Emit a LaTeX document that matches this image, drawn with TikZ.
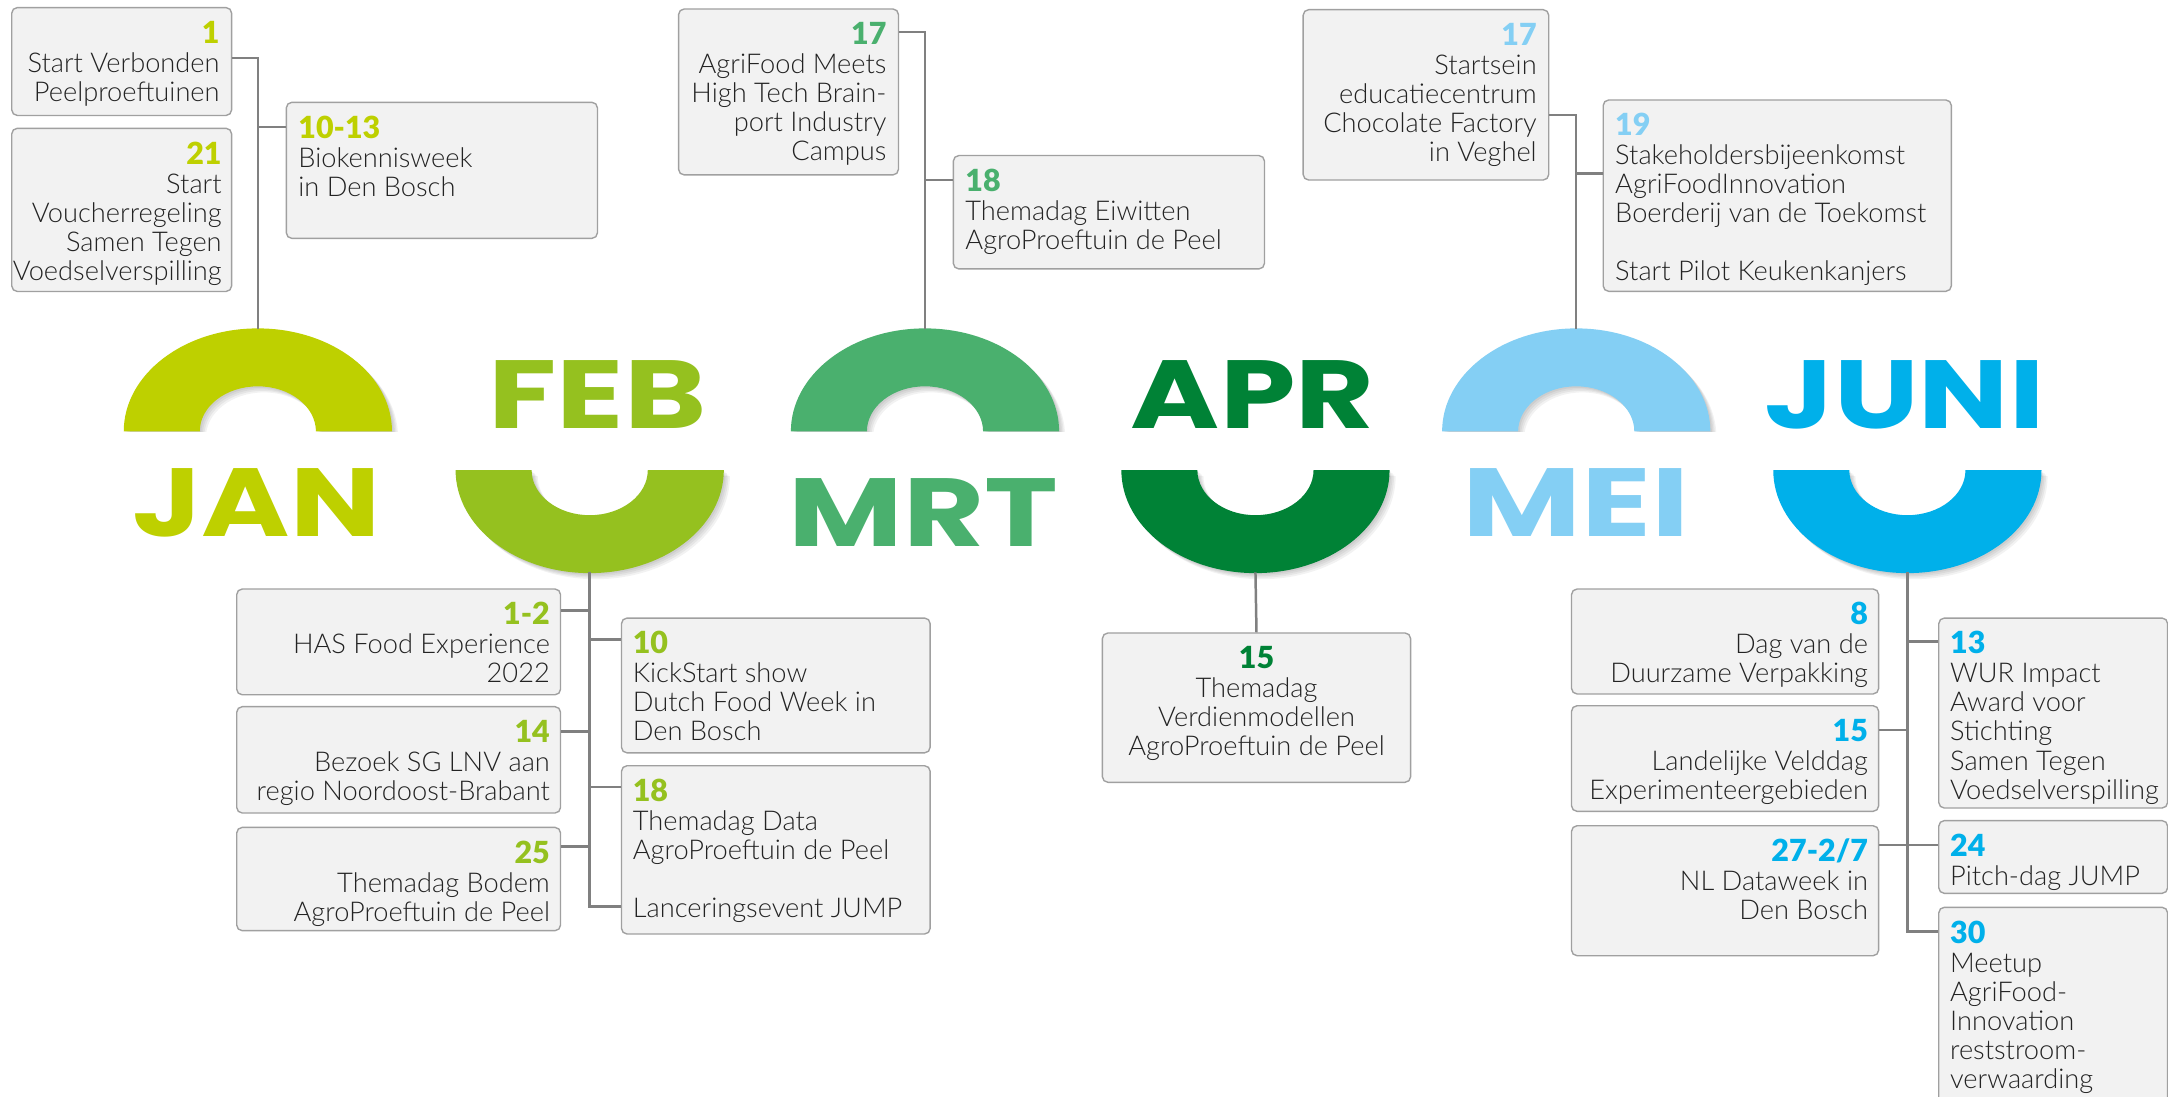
\documentclass[tikz,border=0pt]{standalone}
\usepackage{fontspec}
\usepackage{graphicx}
\setmainfont{Lato Light}[BoldFont={Lato Black}]
\newfontfamily\monthfamily{Poppins}

\definecolor{janc}{RGB}{190,208,0}
\definecolor{febc}{RGB}{149,193,31}
\definecolor{mrtc}{RGB}{74,176,110}
\definecolor{aprc}{RGB}{0,130,54}
\definecolor{meic}{RGB}{132,207,244}
\definecolor{junc}{RGB}{0,176,234}
\definecolor{boxfill}{RGB}{242,242,242}
\definecolor{boxline}{RGB}{160,160,160}
\definecolor{linkgray}{RGB}{128,128,128}
\definecolor{txtgray}{RGB}{35,35,35}

\newcommand{\evfont}{\fontsize{19.7}{21}\selectfont}
\newcommand{\evnum}[2]{{\fontsize{22}{21}\selectfont\bfseries\textcolor{#1}{#2}}}
\newcommand{\monthfont}{\monthfamily\bfseries\fontsize{70}{72}\selectfont}

% half rings, cut flat at the middle line
\newcommand{\archup}[1]{({#1-97},312) arc[start angle=180, end angle=0, x radius=97pt, y radius=74.5pt] -- ({#1+42},312) arc[start angle=0, end angle=180, x radius=42pt, y radius=32.6pt] -- cycle}
\newcommand{\archdown}[1]{({#1-97},340) arc[start angle=180, end angle=360, x radius=97pt, y radius=74.5pt] -- ({#1+42},340) arc[start angle=0, end angle=-180, x radius=42pt, y radius=32.6pt] -- cycle}

\tikzset{
  evbox/.style={draw=boxline, fill=boxfill, line width=1pt, rounded corners=4pt, inner sep=0pt, anchor=north west},
  evright/.style={anchor=north east, align=right, inner sep=0pt, font=\evfont, text=txtgray},
  evleft/.style={anchor=north west, align=left, inner sep=0pt, font=\evfont, text=txtgray},
  evmid/.style={anchor=north, align=center, inner sep=0pt, font=\evfont, text=txtgray},
  link/.style={draw=linkgray, line width=1.8pt},
  month/.style={anchor=base, inner sep=0pt, font=\monthfont},
}

\begin{document}
\begin{tikzpicture}[x=1pt, y=-1pt]
    \useasboundingbox (0,0) rectangle (1568,793);
    \fill[white] (0,0) rectangle (1568,793);
    \clip (0,0) rectangle (1568,793);

    % Arches
    \foreach \cx/\col in {186.5/janc, 669/mrtc, 1140/meic} {
        \begin{scope}
            \clip ({\cx-130},220) rectangle ({\cx+130},312);
            \foreach \s in {1,...,4}
                \fill[black, opacity=0.05, shift={(1.1*\s,1.1*\s)}] \archup{\cx};
        \end{scope}
        \fill[\col] \archup{\cx};
    }
    \foreach \cx/\col in {426.5/febc, 908/aprc, 1379.5/junc} {
        \begin{scope}
            \clip ({\cx-130},340) rectangle ({\cx+130},440);
            \foreach \s in {1,...,4}
                \fill[black, opacity=0.05, shift={(1.1*\s,1.1*\s)}] \archdown{\cx};
        \end{scope}
        \fill[\col] \archdown{\cx};
    }
    \coordinate (jan) at (186.5,238);
    \coordinate (mrt) at (669,238);
    \coordinate (mei) at (1140,238);
    \coordinate (feb) at (426.5,414);
    \coordinate (apr) at (908,414);
    \coordinate (jun) at (1379.5,414);

    % Months
    \node[month, text=janc] (janlbl) at (185.5,388) {\scalebox{1.24}[1]{JAN}};
    \node[month, text=febc] (feblbl) at (432,310) {\scalebox{1.29}[1]{FEB}};
    \node[month, text=mrtc] (mrtlbl) at (668,395) {\scalebox{1.29}[1]{MRT}};
    \node[month, text=aprc] (aprlbl) at (906,310) {\scalebox{1.25}[1]{APR}};
    \node[month, text=meic] (meilbl) at (1140,388) {\scalebox{1.34}[1]{MEI}};
    \node[month, text=junc] (junlbl) at (1377.5,310) {\scalebox{1.24}[1]{JUNI}};

    % Boxes januari
    \node[evbox, minimum width=159, minimum height=78] (b1) at (8,5) {};
    \node[evright] (t1) at ([xshift=-9pt, yshift=-10pt]b1.north east) {\evnum{janc}{1}\\ Start Verbonden\\ Peelproeftuinen};
    \node[evbox, minimum width=159, minimum height=118] (b21) at (8,92.3) {};
    \node[evright] (t21) at ([xshift=-7.5pt, yshift=-10pt]b21.north east) {\evnum{janc}{21}\\ Start\\ Voucherregeling\\ Samen Tegen\\ Voedselverspilling};
    \node[evbox, minimum width=225, minimum height=98.4] (b1013) at (206.6,73.5) {};
    \node[evleft] (t1013) at ([xshift=9pt, yshift=-10pt]b1013.north west) {\evnum{janc}{10-13}\\ Biokennisweek\\ in Den Bosch};

    % Boxes maart
    \node[evbox, minimum width=159, minimum height=120] (b17) at (490.3,6) {};
    \node[evright] (t17) at ([xshift=-9pt, yshift=-10pt]b17.north east) {\evnum{mrtc}{17}\\ AgriFood Meets\\ High Tech Brain-\\ port Industry\\ Campus};
    \node[evbox, minimum width=225, minimum height=82] (b18) at (689,112) {};
    \node[evleft] (t18) at ([xshift=9pt, yshift=-10pt]b18.north west) {\evnum{mrtc}{18}\\ Themadag Eiwitten\\ AgroProeftuin de Peel};

    % Boxes mei
    \node[evbox, minimum width=177.6, minimum height=123.2] (b17m) at (942,6.5) {};
    \node[evright] (t17m) at ([xshift=-9pt, yshift=-10pt]b17m.north east) {\evnum{meic}{17}\\ Startsein\\ educatiecentrum\\ Chocolate Factory\\ in Veghel};
    \node[evbox, minimum width=251.8, minimum height=138.4] (b19) at (1159,71.8) {};
    \node[evleft] (t19) at ([xshift=9pt, yshift=-10pt]b19.north west) {\evnum{meic}{19}\\ Stakeholdersbijeenkomst\\ AgriFoodInnovation\\ Boerderij van de Toekomst\\[21pt] Start Pilot Keukenkanjers};

    % Boxes februari
    \node[evbox, minimum width=234.2, minimum height=76.5] (b12) at (170.7,425.5) {};
    \node[evright] (t12) at ([xshift=-8pt, yshift=-10pt]b12.north east) {\evnum{febc}{1-2}\\ HAS Food Experience\\ 2022};
    \node[evbox, minimum width=234.2, minimum height=76.9] (b14) at (170.7,510.6) {};
    \node[evright] (t14) at ([xshift=-8pt, yshift=-10pt]b14.north east) {\evnum{febc}{14}\\ Bezoek SG LNV aan\\ regio Noordoost-Brabant};
    \node[evbox, minimum width=234.2, minimum height=74.7] (b25) at (170.7,597.9) {};
    \node[evright] (t25) at ([xshift=-8pt, yshift=-10pt]b25.north east) {\evnum{febc}{25}\\ Themadag Bodem\\ AgroProeftuin de Peel};
    \node[evbox, minimum width=223.2, minimum height=97.5] (b10) at (449,446.5) {};
    \node[evleft] (t10) at ([xshift=8.5pt, yshift=-10pt]b10.north west) {\evnum{febc}{10}\\ KickStart show\\ Dutch Food Week in\\ Den Bosch};
    \node[evbox, minimum width=223.2, minimum height=121.7] (b18f) at (449,553.3) {};
    \node[evleft] (t18f) at ([xshift=8.5pt, yshift=-10pt]b18f.north west) {\evnum{febc}{18}\\ Themadag Data\\ AgroProeftuin de Peel\\[21pt] Lanceringsevent JUMP};

    % Box april
    \node[evbox, minimum width=222.9, minimum height=108] (b15a) at (796.8,457.3) {};
    \node[evmid] (t15a) at ([yshift=-10pt]b15a.north) {\evnum{aprc}{15}\\ Themadag\\ Verdienmodellen\\ AgroProeftuin de Peel};

    % Boxes juni
    \node[evbox, minimum width=222.1, minimum height=75.9] (b8) at (1136.1,425.5) {};
    \node[evright] (t8) at ([xshift=-8pt, yshift=-10pt]b8.north east) {\evnum{junc}{8}\\ Dag van de\\ Duurzame Verpakking};
    \node[evbox, minimum width=222.1, minimum height=76.4] (b15j) at (1136.1,509.9) {};
    \node[evright] (t15j) at ([xshift=-8pt, yshift=-10pt]b15j.north east) {\evnum{junc}{15}\\ Landelijke Velddag\\ Experimenteergebieden};
    \node[evbox, minimum width=222.1, minimum height=94] (b27) at (1136.1,596.7) {};
    \node[evright] (t27) at ([xshift=-8pt, yshift=-10pt]b27.north east) {\evnum{junc}{27-2/7}\\ NL Dataweek in\\ Den Bosch};
    \node[evbox, minimum width=165.5, minimum height=137.4] (b13) at (1401.7,446.5) {};
    \node[evleft] (t13) at ([xshift=8.5pt, yshift=-10pt]b13.north west) {\evnum{junc}{13}\\ WUR Impact\\ Award voor\\ Stichting\\ Samen Tegen\\ Voedselverspilling};
    \node[evbox, minimum width=165.5, minimum height=52.6] (b24) at (1401.7,593) {};
    \node[evleft] (t24) at ([xshift=8.5pt, yshift=-10pt]b24.north west) {\evnum{junc}{24}\\ Pitch-dag JUMP};
    \node[evbox, minimum width=165.5, minimum height=170] (b30) at (1401.7,655.7) {};
    \node[evleft] (t30) at ([xshift=8.5pt, yshift=-10pt]b30.north west) {\evnum{junc}{30}\\ Meetup\\ AgriFood-\\ Innovation\\ reststroom-\\ verwaarding};

    % Links
    \draw[link] ([yshift=-37pt]b1.north east) -| (jan);
    \draw[link] ([yshift=-18.5pt]b1013.north west) -| (jan);
    \draw[link] ([yshift=-17pt]b17.north east) -| (mrt);
    \draw[link] ([yshift=-18pt]b18.north west) -| (mrt);
    \draw[link] ([yshift=-76.7pt]b17m.north east) -| (mei);
    \draw[link] ([yshift=-53.6pt]b19.north west) -| (mei);
    \draw[link] ([yshift=-16pt]b12.north east) -| (feb);
    \draw[link] ([yshift=-18.6pt]b14.north east) -| (feb);
    \draw[link] ([yshift=-14.4pt]b25.north east) -| (feb);
    \draw[link] ([yshift=-16pt]b10.north west) -| (feb);
    \draw[link] ([yshift=-16pt]b18f.north west) -| (feb);
    \draw[link] ([yshift=-102.4pt]b18f.north west) -| (feb);
    \draw[link] (apr) -- (b15a.north);
    \draw[link] ([yshift=-18pt]b15j.north east) -| (jun);
    \draw[link] ([yshift=-14.4pt]b27.north east) -| (jun);
    \draw[link] ([yshift=-17.6pt]b13.north west) -| (jun);
    \draw[link] ([yshift=-18pt]b24.north west) -| (jun);
    \draw[link] ([yshift=-18pt]b30.north west) -| (jun);
\end{tikzpicture}
\end{document}
